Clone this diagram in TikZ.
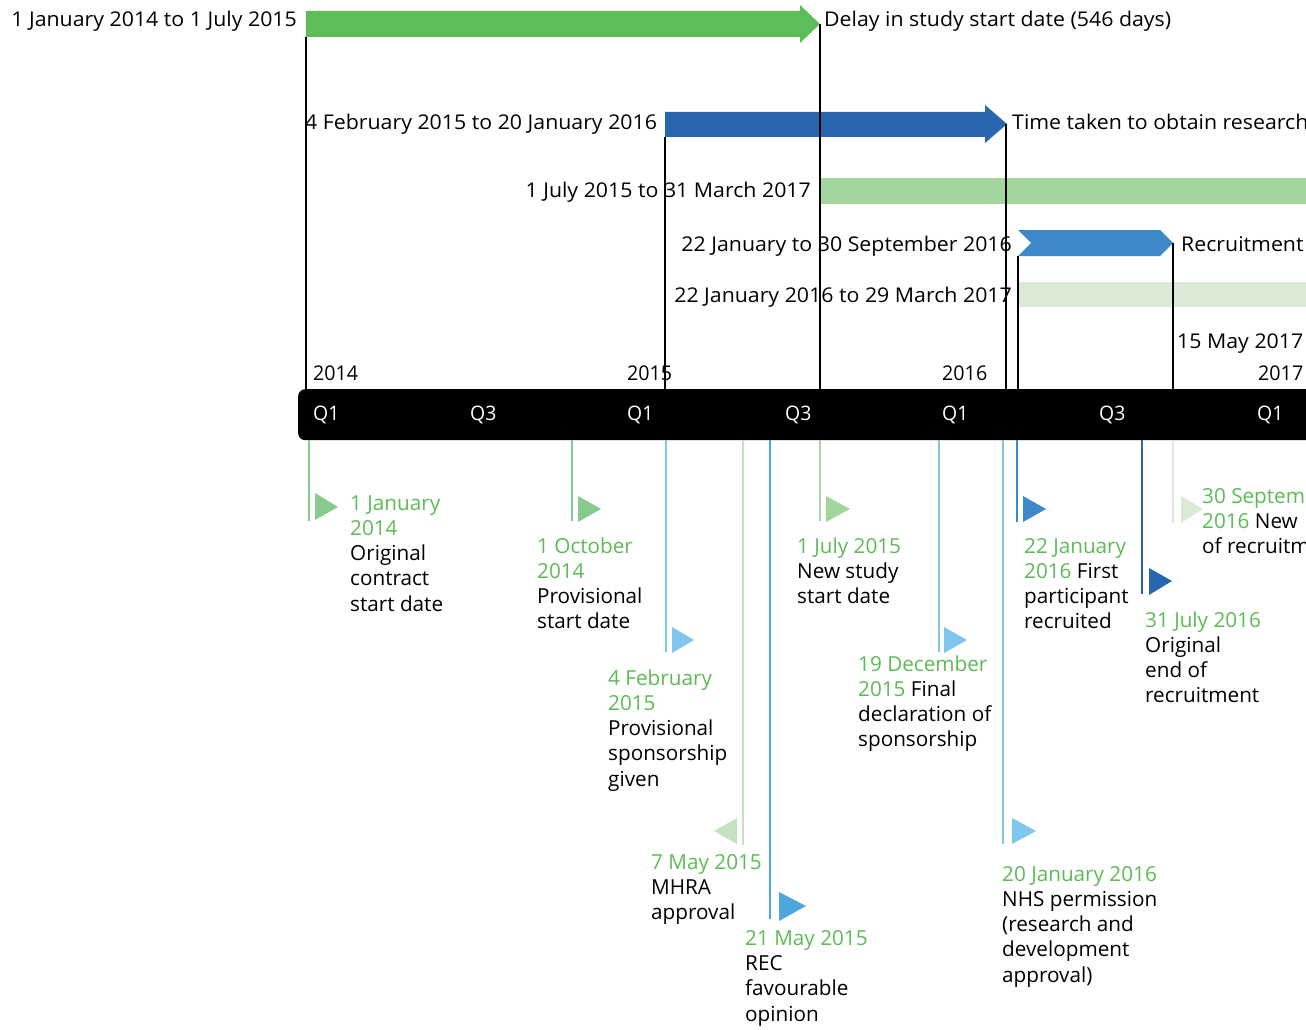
\documentclass[tikz,border=0pt]{standalone}
\usepackage{fontspec}
\setmainfont{Open Sans}
\newfontfamily\condfont[FakeStretch=0.97]{Open Sans}
\newfontfamily\widefont[FakeStretch=1.05]{Open Sans}
\definecolor{tgreen}{HTML}{5DBB55}
\definecolor{agreen}{HTML}{5DBD57}
\definecolor{dblue}{HTML}{2866B0}
\definecolor{mblue}{HTML}{3D89C9}
\definecolor{lgreen}{HTML}{A3D69D}
\definecolor{vlgreen}{HTML}{D9EBD4}
\definecolor{fgreen}{HTML}{86CA8C}
\definecolor{lblue}{HTML}{7FC6EF}
\definecolor{mhragreen}{HTML}{C4E2BF}
\definecolor{recblue}{HTML}{4DA6DE}
\newcommand{\gt}[1]{\textcolor{tgreen}{#1}}
\begin{document}
\begin{tikzpicture}[x=1pt,y=-1pt,
  lbl/.style={font=\fontsize{20.7}{25.3}\selectfont, inner sep=0pt, align=left, anchor=base west},
  toplbl/.style={font=\widefont\fontsize{20.3}{25}\selectfont, inner sep=0pt},
  yrlbl/.style={font=\condfont\fontsize{20.3}{25}\selectfont, inner sep=0pt, anchor=base west},
  qlbl/.style={font=\condfont\fontsize{20}{24}\selectfont, inner sep=0pt, text=white, anchor=base west},
  vline/.style={line width=1.6pt, black},
  mline/.style={line width=2pt},
]
\useasboundingbox (0,0) rectangle (1306,1030);
\clip (0,0) rectangle (1306,1030);

% top arrows and bars
\fill[agreen] (306,11) -- (800,11) -- (800,5) -- (820,24) -- (800,43) -- (800,37) -- (306,37) -- cycle;
\coordinate (gA) at (306,37); \coordinate (gB) at (820,24);
\fill[dblue] (665,112) -- (985,112) -- (985,105) -- (1007,124) -- (985,143) -- (985,137) -- (665,137) -- cycle;
\coordinate (bA) at (665,137); \coordinate (bB) at (1006,124);
\fill[lgreen] (820,178) rectangle (1320,204);
\fill[mblue] (1018,230) -- (1160,230) -- (1173,243) -- (1160,256) -- (1018,256) -- (1031,243) -- cycle;
\coordinate (rA) at (1018,256); \coordinate (rB) at (1173,243);
\fill[vlgreen] (1018,282) rectangle (1320,307);

% timeline bar
\node[fill=black, rounded corners=7pt, minimum width=1040pt, minimum height=51pt, inner sep=0pt, anchor=north west] (bar) at (298,389) {};

% black connectors
\foreach \c in {gA,gB,bA,bB,rA,rB}
  \draw[vline] (\c) -- (\c |- bar.north);

% top labels
\node[toplbl, anchor=base east] (t1) at (297,27) {1 January 2014 to 1 July 2015};
\node[toplbl, anchor=base west] (t2) at (824,27) {Delay in study start date (546 days)};
\node[toplbl, anchor=base west] (t3) at (305,130) {4 February 2015 to 20 January 2016};
\node[toplbl, anchor=base west] (t4) at (1012,130) {Time taken to obtain research};
\node[toplbl, anchor=base east] (t5) at (811,197) {1 July 2015 to 31 March 2017};
\node[toplbl, anchor=base east] (t6) at (1012,251) {22 January to 30 September 2016};
\node[toplbl, anchor=base west] (t7) at (1181,251) {Recruitment};
\node[toplbl, anchor=base east] (t8) at (1012,302) {22 January 2016 to 29 March 2017};
\node[toplbl, anchor=base west] (t9) at (1177,348) {15 May 2017};

% year labels
\node[yrlbl] (y14) at (313,380) {2014};
\node[yrlbl] (y15) at (627,380) {2015};
\node[yrlbl] (y16) at (942,380) {2016};
\node[yrlbl] (y17) at (1258,380) {2017};

% quarter labels
\node[qlbl] (q1) at (313,420) {Q1};
\node[qlbl] (q2) at (470,420) {Q3};
\node[qlbl] (q3) at (627,420) {Q1};
\node[qlbl] (q4) at (785,420) {Q3};
\node[qlbl] (q5) at (942,420) {Q1};
\node[qlbl] (q6) at (1099,420) {Q3};
\node[qlbl] (q7) at (1257,420) {Q1};

% markers below the bar
\draw[mline, fgreen] (309,440) -- (309,521);
\fill[fgreen] (315,493) -- (338,507) -- (315,520) -- cycle;
\draw[mline, fgreen] (572,440) -- (572,521);
\fill[fgreen] (578,496) -- (601,509) -- (578,522) -- cycle;
\draw[mline, lblue] (666,440) -- (666,652);
\fill[lblue] (672,627) -- (694,640) -- (672,653) -- cycle;
\draw[mline, mhragreen] (743,440) -- (743,845);
\fill[mhragreen] (737,818) -- (714,831) -- (737,844) -- cycle;
\draw[mline, recblue] (770,440) -- (770,919);
\fill[recblue] (779,892) -- (806,906) -- (779,921) -- cycle;
\draw[mline, lgreen] (820,440) -- (820,521);
\fill[lgreen] (826,496) -- (850,509) -- (826,522) -- cycle;
\draw[mline, lblue] (939,440) -- (939,652);
\fill[lblue] (944,627) -- (967,640) -- (944,653) -- cycle;
\draw[mline, lblue] (1003,440) -- (1003,844);
\fill[lblue] (1012,818) -- (1036,831) -- (1012,844) -- cycle;
\draw[mline, mblue] (1017,440) -- (1017,522);
\fill[mblue] (1023,496) -- (1046,509) -- (1023,522) -- cycle;
\draw[mline, dblue] (1142,440) -- (1142,594);
\fill[dblue] (1149,568) -- (1172,581) -- (1149,595) -- cycle;
\draw[mline, vlgreen] (1173,440) -- (1173,523);
\fill[vlgreen] (1181,496) -- (1203,509) -- (1181,523) -- cycle;

% marker labels (anchored at the baseline of the last line)
\node[lbl] (m1) at (350,611.2) {\gt{1 January}\\\gt{2014}\\Original\\contract\\start date};
\node[lbl] (m2) at (537,628.9) {\gt{1 October}\\\gt{2014}\\Provisional\\start date};
\node[lbl] (m3) at (608,786.2) {\gt{4 February}\\\gt{2015}\\Provisional\\sponsorship\\given};
\node[lbl] (m4) at (651,919.6) {\gt{7 May 2015}\\MHRA\\approval};
\node[lbl] (m5) at (745,1021) {\gt{21 May 2015}\\REC\\favourable\\opinion};
\node[lbl] (m6) at (797,603.6) {\gt{1 July 2015}\\New study\\start date};
\node[lbl] (m7) at (858,746.9) {\gt{19 December}\\\gt{2015} Final\\declaration of\\sponsorship};
\node[lbl] (m8) at (1002,982.2) {\gt{20 January 2016}\\NHS permission\\(research and\\development\\approval)};
\node[lbl] (m9) at (1024,628.9) {\gt{22 January}\\\gt{2016} First\\participant\\recruited};
\node[lbl] (m10) at (1145,702.9) {\gt{31 July 2016}\\Original\\end of\\recruitment};
\node[lbl] (m11) at (1202,553.6) {\gt{30 Septem}\\\gt{2016} New\\of recruitm};
\end{tikzpicture}
\end{document}
